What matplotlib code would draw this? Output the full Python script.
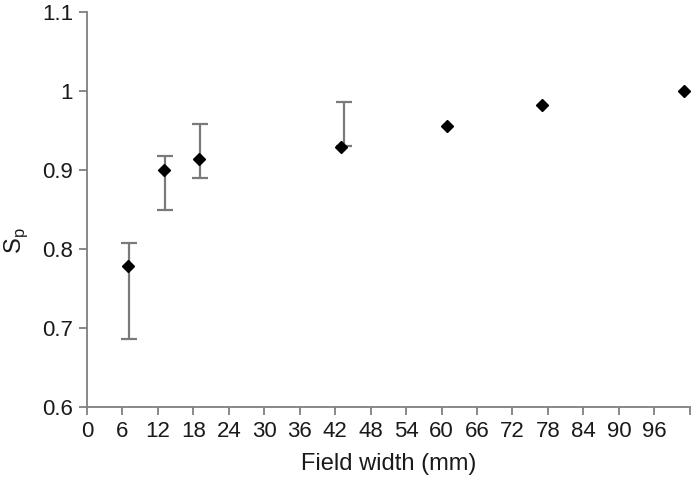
import matplotlib
matplotlib.use("Agg")
import matplotlib.pyplot as plt
import numpy as np
from matplotlib.ticker import FuncFormatter

plt.rcParams['font.family'] = ['Liberation Sans', 'DejaVu Sans']

# Data
field_width = [7, 13, 19, 43, 61, 77, 101]
sp_values = [0.778, 0.900, 0.9135, 0.929, 0.956, 0.982, 1.000]

err_x = [7.1, 13.2, 19.1, 43.5]
err_low = [0.686, 0.849, 0.8895, 0.930]
err_high = [0.808, 0.9177, 0.958, 0.9857]

x_ticks = [0, 6, 12, 18, 24, 30, 36, 42, 48, 54, 60, 66, 72, 78, 84, 90, 96, 102]
x_tick_labels = ['0', '6', '12', '18', '24', '30', '36', '42', '48', '54', '60',
                 '66', '72', '78', '84', '90', '96', '']
y_ticks = [0.6, 0.7, 0.8, 0.9, 1.0, 1.1]

fig = plt.figure(figsize=(6.96, 4.88), dpi=100)
ax = fig.add_axes([0.125, 0.166, 0.866, 0.809])

low = np.array(err_low)
high = np.array(err_high)
ax.errorbar(err_x, low, yerr=[np.zeros_like(low), high - low], fmt='none',
            ecolor='#7a7a7a', elinewidth=1.6, capsize=6, capthick=1.6, zorder=2)
ax.plot(field_width, sp_values, linestyle='none', marker='D', markersize=6.2,
        color='black', zorder=3, clip_on=False)

ax.set_xlim(0, 102)
ax.set_ylim(0.6, 1.1)
ax.set_xticks(x_ticks)
ax.set_xticklabels(x_tick_labels)
ax.set_yticks(y_ticks)
ax.yaxis.set_major_formatter(FuncFormatter(lambda v, p: f"{v:g}"))

for s in ['top', 'right']:
    ax.spines[s].set_visible(False)
for s in ['left', 'bottom']:
    ax.spines[s].set_color('#7f7f7f')
    ax.spines[s].set_linewidth(1.3)

ax.tick_params(axis='both', direction='out', length=6, width=1.3, color='#7f7f7f',
               labelsize=16, labelcolor='#1a1a1a', pad=4)

ax.set_xlabel('Field width (mm)', fontsize=17, color='#1a1a1a', labelpad=8)
ax.set_ylabel('S$_\\mathregular{p}$', fontsize=17, color='#1a1a1a')
ax.yaxis.set_label_coords(-0.095, 0.42)

fig.savefig('out.png', dpi=100)
